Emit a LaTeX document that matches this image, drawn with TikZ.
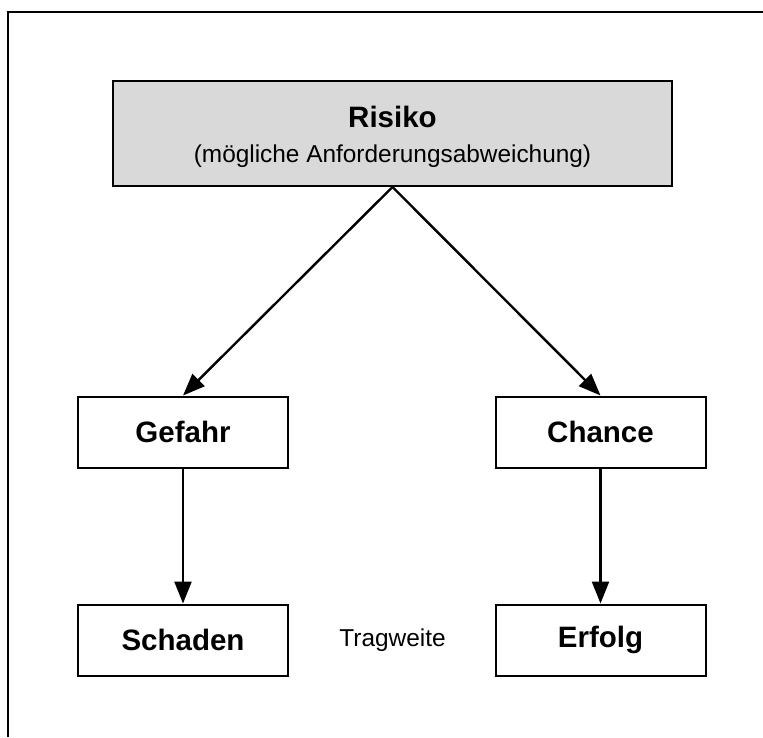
\documentclass[tikz,border=0pt]{standalone}
\usepackage{fontspec}
\setmainfont{Liberation Sans}
\usetikzlibrary{arrows.meta}
\definecolor{boxgray}{HTML}{D9D9D9}
\begin{document}
\begin{tikzpicture}[x=1pt,y=-1pt,
  box/.style={draw=black,line width=2pt,minimum width=210pt,minimum height=71pt,inner sep=0pt,
    font=\fontsize{29.5}{35}\selectfont\bfseries},
  link/.style={line width=2.4pt,-{Triangle[length=22pt,width=17pt]}}]
\useasboundingbox (0,0) rectangle (763,737);
% frame around the picture (right and bottom edges lie outside the page)
\draw[line width=2pt] (8,737) -- (8,11.5) -- (763,11.5);
% top concept
\node[draw=black,fill=boxgray,line width=2pt,minimum width=559pt,minimum height=105pt,inner sep=0pt] (risiko) at (392.5,133.5) {};
\node[font=\fontsize{29.5}{35}\selectfont\bfseries] (risikot) at (392.5,117) {Risiko};
\node[font=\fontsize{24.4}{29}\selectfont] (risikos) at (392.5,156) {(mögliche Anforderungsabweichung)};
% second level
\node[box] (gefahr) at (183,432) {Gefahr};
\node[box] (chance) at (600.5,432) {Chance};
% third level
\node[box] (schaden) at (183,640) {Schaden};
\node[box] (erfolg) at (600.5,640) {Erfolg};
\node[font=\fontsize{24.4}{29}\selectfont] (tragweite) at (392.5,640) {Tragweite};
% connectors
\coordinate (apex) at (risiko.south);
\draw[link] (apex) -- (gefahr.north);
\draw[link] (apex) -- (chance.north);
\draw[link] (gefahr.south) -- (schaden.north);
\draw[link] (chance.south) -- (erfolg.north);
\end{tikzpicture}
\end{document}
